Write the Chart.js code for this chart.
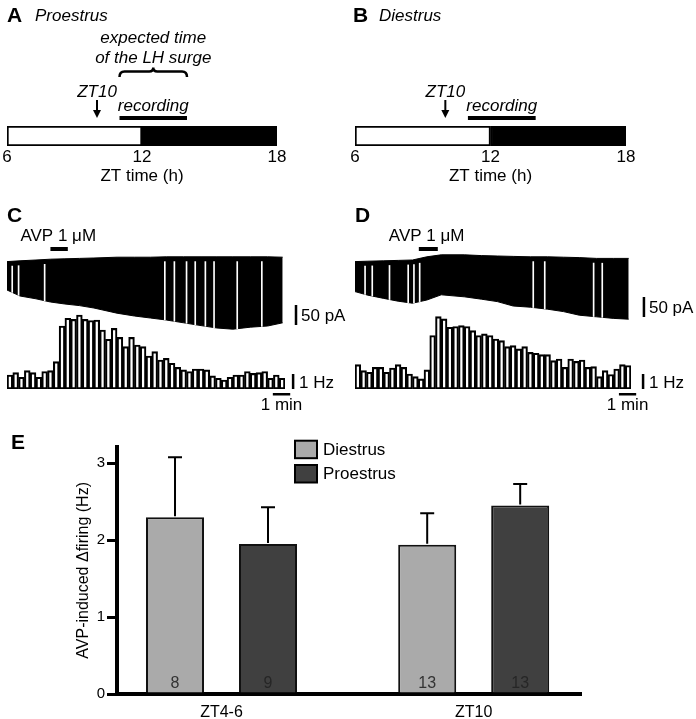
<!DOCTYPE html>
<html>
<head>
<meta charset="utf-8">
<script src="https://cdn.jsdelivr.net/npm/chart.js@4.4.1/dist/chart.umd.min.js"></script>
<style>
  html, body { margin: 0; padding: 0; background: #fff; }
  #figure { position: relative; width: 696px; height: 719px; overflow: hidden; }
  #figure canvas { position: absolute; }
</style>
</head>
<body>
<div id="figure">
  <canvas id="panel-a" width="348" height="200" style="left:0;top:0"></canvas>
  <canvas id="panel-b" width="348" height="200" style="left:348px;top:0"></canvas>
  <canvas id="panel-c" width="348" height="215" style="left:0;top:200px"></canvas>
  <canvas id="panel-d" width="348" height="215" style="left:348px;top:200px"></canvas>
  <canvas id="panel-e" width="696" height="299" style="left:0;top:420px"></canvas>
</div>
<script>
const FONT = '"Liberation Sans", Arial, sans-serif';
Chart.defaults.font.family = FONT;
Chart.defaults.color = "#000";

// A, B: light/dark schedule (ZT hours)
const ztTicks = [6, 12, 18];
const lightPhase = [6, 12];
const darkPhase = [12, 18];
const ztArrow = 10;
const recordingWindow = [11, 14];
const lhSurgeWindow = [11, 14];

// C, D: holding current envelope (pA) and firing histogram (Hz, 20 s bins)
const binSeconds = 20;
const traceTime = [0, 45, 100, 150, 200, 250, 300, 380, 440, 495, 550, 610, 670, 725, 780, 840, 900, 952];
const traceTopC = [-29, -27, -25, -23, -22, -21, -20, -18, -18, -18, -17, -17, -17, -17, -17, -17, -17, -18];
const traceBottomC = [-100, -115, -122, -130, -135, -139, -145, -158, -165, -170, -175, -182, -189, -195, -198, -193, -190, -182];
const traceTopD = [-29, -28, -27, -26, -25, -17, -12, -12, -14, -15, -16, -17, -17, -18, -19, -21, -21, -21];
const traceBottomD = [-104, -113, -121, -128, -133, -125, -112, -117, -123, -129, -140, -143, -148, -154, -163, -167, -171, -173];
// times (s) where the black trace shows a thin white gap
const gapsC = [18, 40, 130, 545, 578, 620, 650, 685, 715, 795, 880];
const gapsD = [35, 60, 120, 185, 205, 225, 620, 660, 830, 860];
const histC = [0.93, 1.09, 0.78, 1.22, 1.09, 0.78, 1.16, 1.22, 1.82, 4.20, 4.71, 4.64, 4.93, 4.64, 4.56, 4.60,
  3.93, 3.31, 4.04, 3.44, 2.82, 3.44, 2.93, 2.82, 2.20, 2.49, 1.93, 2.04, 1.71, 1.44, 1.27, 1.16,
  1.33, 1.33, 1.27, 0.87, 0.71, 0.60, 0.78, 0.93, 0.93, 1.16, 1.04, 1.09, 1.16, 0.71, 0.93, 0.71];
const histD = [1.62, 1.22, 1.11, 1.44, 1.44, 1.11, 1.40, 1.62, 1.44, 1.00, 0.82, 0.67, 1.27, 3.56, 4.82, 4.67,
  4.11, 4.16, 4.22, 4.16, 3.89, 3.56, 3.67, 3.56, 3.33, 3.22, 2.82, 2.89, 2.67, 2.82, 2.44, 2.38,
  2.29, 2.29, 1.89, 2.00, 1.44, 2.00, 1.84, 1.93, 1.44, 1.49, 0.82, 1.22, 0.96, 1.33, 1.62, 1.56];
const avpC = [150, 210];
const avpD = [222, 288];

// E: AVP-induced change in firing
const groups = ["ZT4-6", "ZT10"];
const diestrusMean = [2.30, 1.94];
const diestrusSem = [0.78, 0.41];
const diestrusN = [8, 13];
const proestrusMean = [1.95, 2.45];
const proestrusSem = [0.48, 0.28];
const proestrusN = [9, 13];

const timelineNotes = {
  id: "timelineNotes",
  afterDraw(chart, args, o) {
    const ctx = chart.ctx;
    const x = chart.scales.x;
    ctx.save();
    ctx.fillStyle = "#000";
    ctx.strokeStyle = "#000";
    ctx.textBaseline = "alphabetic";
    ctx.font = "bold 21px " + FONT;
    ctx.fillText(o.letter, o.letterX, 22);
    ctx.font = "italic 17px " + FONT;
    ctx.fillText(o.stage, o.stageX, 21);

    ctx.textAlign = "center";
    const xa = x.getPixelForValue(ztArrow);
    ctx.fillText("ZT10", xa, 97);
    ctx.lineWidth = 2;
    ctx.beginPath();
    ctx.moveTo(xa, 100);
    ctx.lineTo(xa, 112);
    ctx.stroke();
    ctx.beginPath();
    ctx.moveTo(xa - 4, 110);
    ctx.lineTo(xa + 4, 110);
    ctx.lineTo(xa, 118);
    ctx.closePath();
    ctx.fill();

    const r0 = x.getPixelForValue(recordingWindow[0]);
    const r1 = x.getPixelForValue(recordingWindow[1]);
    ctx.fillText("recording", (r0 + r1) / 2, 111);
    ctx.fillRect(r0, 116, r1 - r0, 4);

    if (o.surge) {
      const s0 = x.getPixelForValue(lhSurgeWindow[0]);
      const s1 = x.getPixelForValue(lhSurgeWindow[1]);
      const m = (s0 + s1) / 2;
      ctx.fillText("expected time", m, 43);
      ctx.fillText("of the LH surge", m, 63);
      ctx.lineWidth = 2.5;
      ctx.beginPath();
      ctx.moveTo(s0, 77);
      ctx.quadraticCurveTo(s0, 71.5, s0 + 5, 71.5);
      ctx.lineTo(m - 4, 71.5);
      ctx.quadraticCurveTo(m, 71.5, m, 67.5);
      ctx.quadraticCurveTo(m, 71.5, m + 4, 71.5);
      ctx.lineTo(s1 - 5, 71.5);
      ctx.quadraticCurveTo(s1, 71.5, s1, 77);
      ctx.stroke();
    }
    ctx.restore();
  },
};

function timelineChart(id, notes) {
  return new Chart(document.getElementById(id), {
    type: "bar",
    data: {
      labels: ["ZT"],
      datasets: [{
          label: "light",
          data: [lightPhase],
          backgroundColor: "#fff",
          borderColor: "#000",
          borderWidth: 2,
          borderSkipped: false,
          grouped: false,
          barPercentage: 1,
          categoryPercentage: 1,
        },
        {
          label: "dark",
          data: [darkPhase],
          backgroundColor: "#000",
          borderColor: "#000",
          borderWidth: 2,
          borderSkipped: false,
          grouped: false,
          barPercentage: 1,
          categoryPercentage: 1,
        },
      ],
    },
    options: {
      indexAxis: "y",
      responsive: false,
      animation: false,
      layout: { padding: { left: 7, right: notes.rightPad, top: 126, bottom: 4 } },
      plugins: {
        legend: { display: false },
        tooltip: { enabled: false },
        timelineNotes: notes,
      },
      scales: {
        x: {
          type: "linear",
          min: ztTicks[0],
          max: ztTicks[ztTicks.length - 1],
          afterBuildTicks: (s) => { s.ticks = ztTicks.map((v) => ({ value: v })); },
          afterFit: (s) => { s.height = 50; },
          grid: { display: false, drawTicks: false },
          border: { display: false },
          ticks: { padding: 1, font: { size: 17 } },
          title: {
            display: true,
            text: "ZT time (h)",
            font: { size: 17 },
            padding: { top: 0, bottom: 9 },
          },
        },
        y: { display: false },
      },
    },
    plugins: [timelineNotes],
  });
}

const traceNotes = {
  id: "traceNotes",
  afterDraw(chart, args, o) {
    const { ctx, scales } = chart;
    const x = scales.x, pa = scales.pa, hz = scales.hz;
    ctx.save();
    ctx.fillStyle = "#000";
    ctx.textBaseline = "alphabetic";
    ctx.font = "bold 21px " + FONT;
    ctx.fillText(o.letter, o.letterX, 22);

    // AVP application bar
    const a0 = x.getPixelForValue(o.avp[0]);
    const a1 = x.getPixelForValue(o.avp[1]);
    ctx.fillRect(a0, 47, a1 - a0, 4);
    ctx.font = "17px " + FONT;
    ctx.fillText("AVP 1 \u03bcM", a0 - 30, 41);

    // 50 pA scale bar
    const xp = x.getPixelForValue(o.paBar[0]);
    const p0 = pa.getPixelForValue(o.paBar[1]);
    const p1 = pa.getPixelForValue(o.paBar[1] - 50);
    ctx.fillRect(xp - 1.25, p0, 2.5, p1 - p0);
    ctx.fillText("50 pA", xp + 5, p1 - 4);

    // 1 Hz scale bar
    const xh = x.getPixelForValue(o.hzBar);
    const h0 = hz.getPixelForValue(0);
    const h1 = hz.getPixelForValue(1);
    ctx.fillRect(xh - 1.25, h1, 2.5, h0 - h1);
    ctx.fillText("1 Hz", xh + 6, h0 - 1);

    // 1 min scale bar
    const m0 = x.getPixelForValue(o.minBar[0]);
    const m1 = x.getPixelForValue(o.minBar[1]);
    ctx.fillRect(m0, h0 + 4, m1 - m0, 2.5);
    ctx.textAlign = "center";
    ctx.fillText("1 min", (m0 + m1) / 2, h0 + 21);
    ctx.restore();
  },
};

function traceChart(id, top, bottom, gaps, hist, notes) {
  // white gap lines run from the lower edge up to just under the upper edge
  const gapData = gaps.map((t) => {
    let k = 0;
    while (k < traceTime.length - 2 && traceTime[k + 1] < t) k++;
    const f = (t - traceTime[k]) / (traceTime[k + 1] - traceTime[k]);
    const lo = bottom[k] + f * (bottom[k + 1] - bottom[k]);
    const hi = top[k] + f * (top[k + 1] - top[k]);
    return { x: t, y: [lo, hi - 12] };
  });
  const tMax = hist.length * binSeconds;
  return new Chart(document.getElementById(id), {
    type: "bar",
    data: {
      datasets: [{
          type: "line",
          label: "current upper",
          data: traceTime.map((t, i) => ({ x: t, y: top[i] })),
          yAxisID: "pa",
          borderColor: "#000",
          backgroundColor: "#000",
          borderWidth: 1,
          pointRadius: 0,
          tension: 0,
          fill: "+1",
          order: 3,
        },
        {
          type: "line",
          label: "current lower",
          data: traceTime.map((t, i) => ({ x: t, y: bottom[i] })),
          yAxisID: "pa",
          borderColor: "#000",
          borderWidth: 1,
          pointRadius: 0,
          tension: 0,
          fill: false,
          order: 3,
        },
        {
          type: "bar",
          label: "trace gaps",
          data: gapData,
          xAxisID: "xGap",
          yAxisID: "pa",
          backgroundColor: "#fff",
          borderWidth: 0,
          barThickness: 1,
          grouped: false,
          order: 1,
        },
        {
          type: "bar",
          label: "firing rate",
          data: hist.map((v, i) => ({ x: i * binSeconds + binSeconds / 2, y: v })),
          yAxisID: "hz",
          backgroundColor: "#fff",
          borderColor: "#000",
          borderWidth: 2.1,
          borderSkipped: false,
          barPercentage: 1,
          categoryPercentage: 1,
          grouped: false,
          order: 2,
        },
      ],
    },
    options: {
      responsive: false,
      animation: false,
      layout: { padding: { left: 7, right: notes.rightPad, top: 50, bottom: 26 } },
      plugins: {
        legend: { display: false },
        tooltip: { enabled: false },
        traceNotes: notes,
      },
      scales: {
        x: { type: "linear", display: false, offset: false, min: 0, max: tMax },
        xGap: { type: "linear", display: false, offset: false, min: 0, max: tMax },
        pa: { type: "linear", display: false, min: -347.5, max: 0 },
        hz: { type: "linear", display: false, min: 0, max: 139 / 15 },
      },
    },
    plugins: [traceNotes],
  });
}

const barNotes = {
  id: "barNotes",
  afterDatasetsDraw(chart) {
    const { ctx } = chart;
    const y = chart.scales.y;
    const sems = [diestrusSem, proestrusSem];
    const means = [diestrusMean, proestrusMean];
    const ns = [diestrusN, proestrusN];
    const nColors = ["#333", "#262626"];
    ctx.save();
    ctx.strokeStyle = "#000";
    ctx.lineWidth = 2;
    sems.forEach((sem, d) => {
      chart.getDatasetMeta(d).data.forEach((bar, i) => {
        const top = y.getPixelForValue(means[d][i] + sem[i]);
        ctx.beginPath();
        ctx.moveTo(bar.x, bar.y - 1);
        ctx.lineTo(bar.x, top);
        ctx.moveTo(bar.x - 7, top);
        ctx.lineTo(bar.x + 7, top);
        ctx.stroke();
        ctx.fillStyle = nColors[d];
        ctx.font = "16px " + FONT;
        ctx.textAlign = "center";
        ctx.textBaseline = "alphabetic";
        ctx.fillText(String(ns[d][i]), bar.x, y.getPixelForValue(0) - 6);
      });
    });
    ctx.restore();
  },
  afterDraw(chart) {
    const { ctx } = chart;
    ctx.save();
    ctx.fillStyle = "#000";
    ctx.textBaseline = "alphabetic";
    ctx.font = "bold 21px " + FONT;
    ctx.fillText("E", 11, 29);
    chart.data.datasets.forEach((ds, i) => {
      const by = 20.7 + i * 24.3;
      ctx.fillStyle = ds.backgroundColor;
      ctx.fillRect(295, by, 22, 17.5);
      ctx.strokeStyle = "#000";
      ctx.lineWidth = 2;
      ctx.strokeRect(295, by, 22, 17.5);
      ctx.fillStyle = "#000";
      ctx.font = "17px " + FONT;
      ctx.textBaseline = "middle";
      ctx.fillText(ds.label, 323, by + 9.5);
    });
    ctx.restore();
  },
};

timelineChart("panel-a", { letter: "A", letterX: 7, stage: "Proestrus", stageX: 35, surge: true, rightPad: 71 });
timelineChart("panel-b", { letter: "B", letterX: 5, stage: "Diestrus", stageX: 31, surge: false, rightPad: 70 });

traceChart("panel-c", traceTopC, traceBottomC, gapsC, histC, {
  letter: "C", letterX: 7, avp: avpC, paBar: [998, -137.5], hzBar: 988, minBar: [918, 978], rightPad: 63,
});
traceChart("panel-d", traceTopD, traceBottomD, gapsD, histD, {
  letter: "D", letterX: 7, avp: avpD, paBar: [1005, -117.5], hzBar: 1002, minBar: [918, 978], rightPad: 65,
});

new Chart(document.getElementById("panel-e"), {
  type: "bar",
  data: {
    datasets: [{
        label: "Diestrus",
        data: groups.map((g, i) => ({ x: i, y: diestrusMean[i] })),
        backgroundColor: "#aaaaaa",
        borderColor: "#111",
        borderWidth: 2,
        barPercentage: 0.624,
        categoryPercentage: 0.7375,
      },
      {
        label: "Proestrus",
        data: groups.map((g, i) => ({ x: i, y: proestrusMean[i] })),
        backgroundColor: "#404040",
        borderColor: "#111",
        borderWidth: 2,
        barPercentage: 0.624,
        categoryPercentage: 0.7375,
      },
    ],
  },
  options: {
    responsive: false,
    animation: false,
    layout: { padding: { left: 0, right: 115, top: 26.7, bottom: 0 } },
    plugins: {
      legend: { display: false },
      tooltip: { enabled: false },
    },
    scales: {
      x: {
        type: "linear",
        min: -0.4144,
        max: 1.4255,
        offset: false,
        z: 1,
        afterBuildTicks: (s) => { s.ticks = groups.map((g, i) => ({ value: i })); },
        afterFit: (s) => { s.height = 25; },
        grid: { display: false, drawTicks: false },
        border: { display: true, width: 4, color: "#000" },
        ticks: { padding: 9, font: { size: 16 }, callback: (v) => groups[v] },
      },
      y: {
        min: 0,
        max: 3.216,
        afterFit: (s) => { s.width = 117; },
        ticks: { stepSize: 1, includeBounds: false, padding: 2, font: { size: 15 } },
        grid: { drawOnChartArea: false, tickLength: 10, lineWidth: 3, color: "#000" },
        border: { width: 4, color: "#000" },
        title: {
          display: true,
          text: "AVP-induced \u0394firing (Hz)",
          font: { size: 16 },
          padding: { top: 74, bottom: 0 },
        },
      },
    },
  },
  plugins: [barNotes],
});
</script>
</body>
</html>
